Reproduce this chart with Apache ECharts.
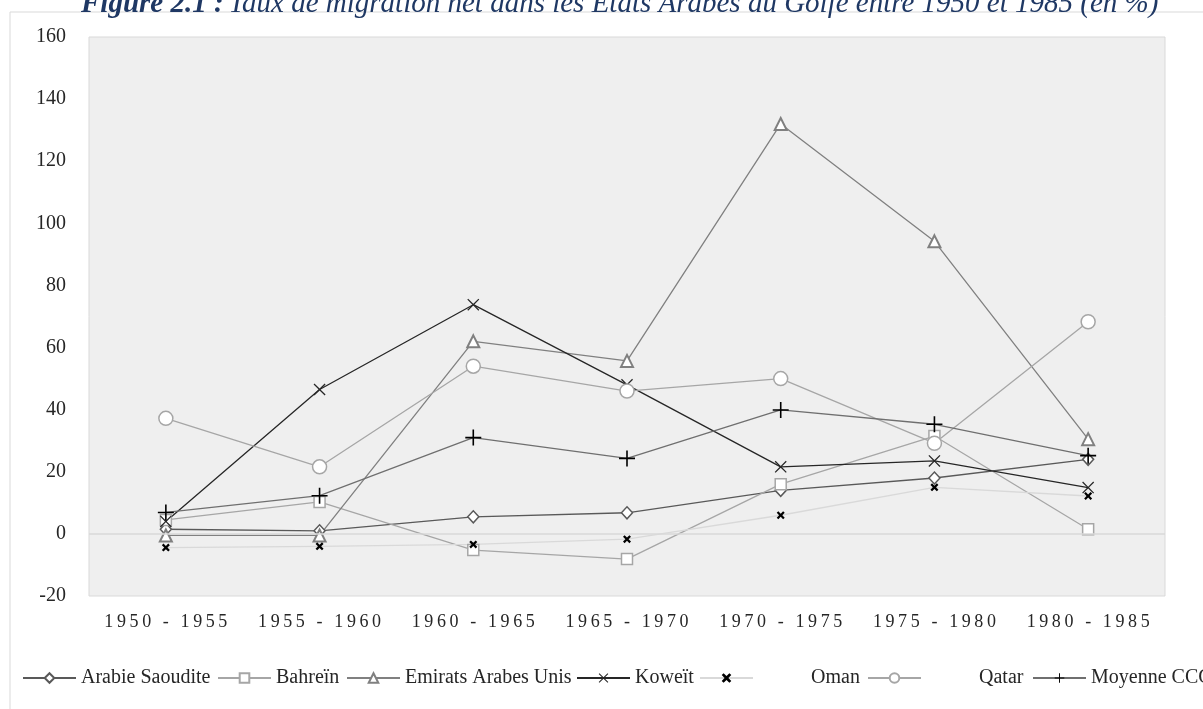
<!DOCTYPE html>
<html>
<head>
<meta charset="utf-8">
<script src="https://cdn.jsdelivr.net/npm/echarts@6/dist/echarts.min.js"></script>
<style>
  html, body { margin: 0; padding: 0; background: #fff; }
  #chart { width: 1203px; height: 709px; }
</style>
</head>
<body>
<div id="chart"></div>
<script>
// periods on the x axis
const periods = ['1950 - 1955', '1955 - 1960', '1960 - 1965', '1965 - 1970', '1970 - 1975', '1975 - 1980', '1980 - 1985'];

// net migration rate, in %
const arabieSaoudite = [1.5, 1, 5.5, 6.8, 14, 18, 24];
const bahrein = [4.5, 10.3, -5.2, -8.1, 16, 31.5, 1.5];
const emirats = [-0.5, -0.5, 62, 55.7, 132, 94.2, 30.5];
const koweit = [4, 46.5, 73.8, 48, 21.6, 23.5, 14.9];
const oman = [-4.4, -4, -3.4, -1.7, 6, 15, 12.2];
const qatar = [37.2, 21.6, 54, 46, 50, 29.2, 68.3];
const moyenneCCG = [6.9, 12.3, 31, 24.3, 39.9, 35.3, 25.2];

const yTicks = [-20, 0, 20, 40, 60, 80, 100, 120, 140, 160];

const FONT = 'Liberation Serif';

// marker shapes
const thinX = 'path://M0,1.5 L1.5,0 L10,8.5 L18.5,0 L20,1.5 L11.5,10 L20,18.5 L18.5,20 L10,11.5 L1.5,20 L0,18.5 L8.5,10 Z';
const boldX = 'path://M0,4 L4,0 L10,6 L16,0 L20,4 L14,10 L20,16 L16,20 L10,14 L4,20 L0,16 L6,10 Z';
const plus = 'path://M9,0 H11 V9 H20 V11 H11 V20 H9 V11 H0 V9 H9 Z';

function spaced(label) {
    return label.split('').join('\u2009');
}

function lineSeries(name, data, lineColor, symbol, size, fill, border, borderWidth) {
    return {
        name: name,
        type: 'line',
        data: data,
        symbol: symbol,
        symbolSize: size,
        showAllSymbol: true,
        lineStyle: { color: lineColor, width: 1.3 },
        itemStyle: { color: fill, borderColor: border, borderWidth: borderWidth },
        emphasis: { disabled: true },
        animation: false
    };
}

const chart = echarts.init(document.getElementById('chart'));

const series = [
    lineSeries('Arabie Saoudite', arabieSaoudite, '#595959', 'diamond', [11, 12], '#fff', '#595959', 1.5),
    lineSeries('Bahreïn', bahrein, '#a6a6a6', 'rect', 11, '#fff', '#a6a6a6', 1.5),
    lineSeries('Emirats Arabes Unis', emirats, '#808080', 'triangle', 12, '#fff', '#808080', 2),
    lineSeries('Koweït', koweit, '#262626', thinX, 12, '#262626', '#262626', 0),
    lineSeries('Oman', oman, '#d9d9d9', boldX, 8, '#000', '#000', 0),
    lineSeries('Qatar', qatar, '#a6a6a6', 'circle', 14, '#fff', '#a6a6a6', 1.5),
    lineSeries('Moyenne CCG', moyenneCCG, '#6f6f6f', plus, 16, '#000', '#000', 0)
];

// zero line
series[0].markLine = {
    silent: true,
    symbol: 'none',
    label: { show: false },
    lineStyle: { color: '#d9d9d9', type: 'solid', width: 1.5 },
    data: [{ yAxis: 0 }]
};

// one legend per entry, like the spreadsheet columns
function legendItem(name, left, pad) {
    const text = { fontFamily: FONT, fontSize: 20, color: '#262626' };
    const item = {
        data: [name],
        left: left,
        top: 668,
        padding: 0,
        itemWidth: 53,
        itemHeight: 12,
        textStyle: text
    };
    if (pad) {
        item.formatter = '{p|{name}}';
        item.textStyle = Object.assign({}, text, {
            rich: { p: Object.assign({}, text, { padding: [0, 0, 0, pad] }) }
        });
    }
    return item;
}

const option = {
    backgroundColor: '#fff',
    title: {
        text: '{b|Figure 2.1 :} {i|Taux de migration net dans les Etats Arabes du Golfe entre 1950 et 1985 (en %)}',
        left: 76,
        top: -15,
        textStyle: {
            rich: {
                b: { fontFamily: FONT, fontSize: 29, fontStyle: 'italic', fontWeight: 'bold', color: '#1f3864' },
                i: { fontFamily: FONT, fontSize: 29, fontStyle: 'italic', fontWeight: 'normal', color: '#1f3864' }
            }
        }
    },
    graphic: [{
        type: 'rect',
        shape: { x: 10, y: 12, width: 1400, height: 900 },
        style: { fill: 'none', stroke: '#d9d9d9', lineWidth: 1 },
        silent: true,
        z: -1
    }],
    legend: [
        legendItem('Arabie Saoudite', 22),
        legendItem('Bahreïn', 217),
        legendItem('Emirats Arabes Unis', 346),
        legendItem('Koweït', 576),
        legendItem('Oman', 699, 53),
        legendItem('Qatar', 867, 53),
        legendItem('Moyenne CCG', 1032)
    ],
    grid: {
        left: 89,
        right: 38,
        top: 37,
        bottom: 113,
        show: true,
        backgroundColor: '#efefef',
        borderColor: '#d9d9d9',
        borderWidth: 1
    },
    xAxis: {
        type: 'category',
        data: periods,
        boundaryGap: true,
        axisLine: { show: false },
        axisTick: { show: false },
        axisLabel: {
            interval: 0,
            hideOverlap: false,
            margin: 17,
            fontFamily: FONT,
            fontSize: 18,
            color: '#262626',
            formatter: spaced
        }
    },
    yAxis: {
        type: 'value',
        min: yTicks[0],
        max: yTicks[yTicks.length - 1],
        interval: 20,
        axisLine: { show: false },
        axisTick: { show: false },
        splitLine: { show: false },
        axisLabel: {
            margin: 23,
            fontFamily: FONT,
            fontSize: 20,
            color: '#262626'
        }
    },
    series: series
};

chart.setOption(option);
</script>
</body>
</html>
